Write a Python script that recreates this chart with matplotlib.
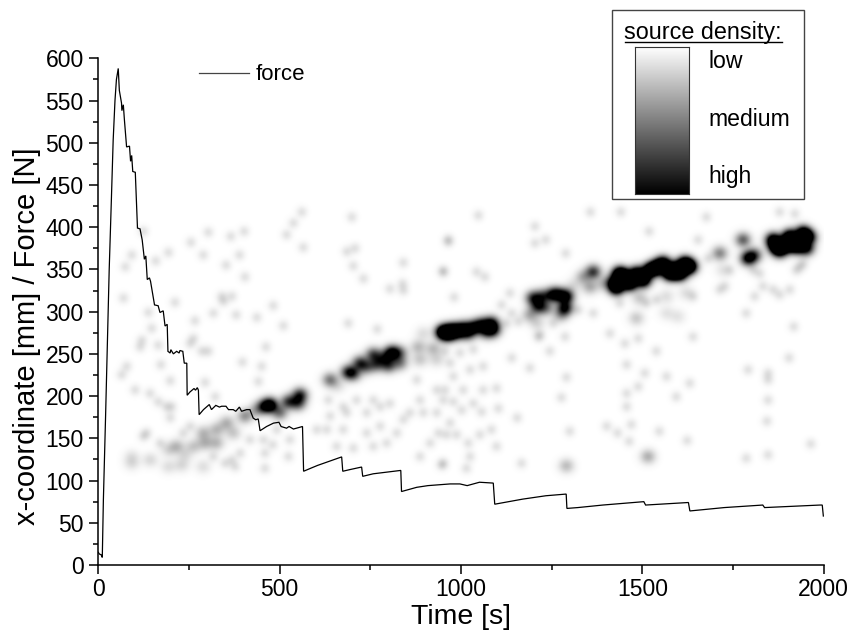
import numpy as np
import matplotlib
matplotlib.use("Agg")
import matplotlib.pyplot as plt
from matplotlib.ticker import MultipleLocator

plt.rcParams['font.family'] = ['Liberation Sans', 'DejaVu Sans']

# force curve
force_t = [0, 3, 8, 11, 14, 20, 30, 36, 41, 46, 50, 55, 58, 64, 65, 69, 72, 78, 86, 89, 92, 95, 102, 108, 115,
           121, 127, 131, 135, 141, 144, 155, 165, 170, 179, 184, 190, 192, 198, 200, 207, 216, 223, 225, 233,
           237, 244, 245, 253, 264, 268, 273, 276, 278, 290, 306, 312, 324, 334, 340, 352, 359, 372, 379, 389,
           395, 409, 418, 427, 434, 441, 446, 464, 483, 498, 504, 519, 526, 538, 563, 566, 588, 605, 671, 674,
           694, 726, 729, 758, 834, 836, 878, 909, 970, 997, 1017, 1051, 1089, 1093, 1170, 1234, 1290, 1292,
           1322, 1391, 1504, 1509, 1627, 1631, 1726, 1832, 1837, 1990, 1996, 1999]
force_y = [15, 13, 12, 9, 77, 175, 349, 432, 503, 550, 575, 588, 562, 547, 538, 545, 527, 495, 496, 478, 485, 466,
           465, 399, 398, 385, 362, 366, 338, 340, 336, 308, 307, 299, 301, 283, 285, 253, 251, 255, 250, 253,
           251, 254, 253, 239, 239, 201, 205, 209, 207, 210, 207, 178, 184, 190, 184, 189, 187, 188, 188, 184,
           184, 182, 187, 182, 184, 184, 174, 172, 173, 159, 164, 168, 169, 164, 162, 164, 161, 164, 111, 115,
           118, 128, 111, 113, 116, 105, 108, 112, 87, 92, 94, 96, 96, 94, 98, 97, 72, 78, 82, 84, 67, 68, 71,
           75, 71, 74, 64, 68, 71, 68, 71, 71, 58]

# isolated acoustic sources, each one faint spot
faint_t = [124, 92, 74, 158, 193, 255, 289, 303, 365, 402, 389, 352, 404, 519, 538, 561, 565, 699, 685, 708, 703,
           731, 841, 804, 839, 841, 951, 965, 69, 211, 340, 368, 345, 317, 380, 437, 482, 510, 138, 266, 147, 120,
           115, 165, 262, 253, 285, 303, 462, 689, 769, 397, 450, 441, 172, 78, 64, 198, 294, 101, 142, 165, 202,
           124, 198, 322, 368, 349, 459, 481, 524, 528, 459, 377, 634, 630, 657, 703, 758, 685, 712, 804, 841,
           795, 777, 887, 933, 951, 938, 951, 887, 740, 675, 859, 915, 956, 997, 1034, 1061, 1098, 956, 979,
           1002, 1057, 1103, 960, 988, 1052, 1084, 1098, 1020, 1025, 1015, 947, 1140, 1190, 1245, 1291, 1277,
           1155, 1300, 1167, 1402, 1432, 1470, 1464, 1547, 1624, 1457, 1452, 1539, 1489, 1411, 1640, 1787, 1918,
           1905, 1792, 1847, 1847, 1847, 1844, 1847, 1787, 1507, 1489, 1567, 1631, 1594, 1457, 1457, 1365, 1213,
           1287, 1323, 1048, 965, 1204, 1204, 1234, 1289, 1357, 1441, 1519, 1677, 1879, 1921, 951, 1043, 1066,
           981, 1965, 1218, 1254, 1728, 1810, 1833, 1879, 1907, 1806, 1935, 1112, 1135, 1140, 1158, 1126, 1654,
           1682,
           188, 234, 253, 133, 170, 317, 391, 418, 455, 492, 602, 639, 675, 740, 777, 758, 823, 878, 896, 933,
           970, 1025, 1061, 979, 1006, 1034, 970, 1539, 1512, 1438, 1640, 1714, 1741, 1824, 1861, 1925, 1944]
faint_x = [395, 367, 353, 360, 370, 382, 367, 394, 389, 395, 367, 355, 341, 391, 405, 418, 376, 412, 371, 375, 354,
           339, 358, 327, 333, 325, 348, 383, 316, 311, 318, 318, 312, 298, 296, 293, 307, 283, 299, 289, 280, 266,
           258, 260, 268, 262, 253, 253, 258, 286, 279, 240, 235, 217, 237, 235, 225, 218, 216, 207, 203, 193, 187,
           152, 174, 199, 124, 120, 132, 142, 128, 148, 114, 116, 195, 160, 140, 138, 195, 180, 195, 191, 172,
           144, 164, 195, 207, 195, 156, 120, 128, 156, 160, 180, 144, 253, 251, 255, 207, 209, 207, 193,
           183, 181, 185, 154, 154, 154, 160, 140, 144, 128, 114, 118, 245, 233, 253, 222, 198,
           174, 158, 120, 164, 156, 166, 146, 158, 147, 237, 262, 253, 268, 274, 270, 298, 282,
           245, 231, 227, 219, 195, 170, 130, 126, 227, 211, 223, 215, 199, 203, 187, 298, 270,
           270, 302, 414, 385, 401, 381, 385, 369, 418, 418, 395, 412, 418, 416, 347, 347, 341,
           317, 143, 272, 286, 330, 318, 330, 320, 326, 349, 353, 308, 322, 298, 288, 286, 385,
           363,
           187, 156, 164, 156, 144, 128, 132, 148, 148, 160, 160, 176, 187, 180, 187, 140, 156, 219, 180, 180,
           239, 231, 235, 223, 207, 191, 168, 314, 310, 310, 318, 326, 349, 345, 326, 349, 357]

# denser parts of the cloud, with a weight per spot
band_t = [92, 92, 143, 193, 230, 216, 193, 239, 289, 289, 294, 326, 326, 354, 372, 404, 262,
          473, 455, 524, 556, 551, 435, 500,
          639, 689, 721, 758, 809, 800, 832, 832, 767, 660, 705, 740, 785,
          882, 924, 951, 896, 970, 887, 933,
          951, 979, 1006, 1034, 1057, 1084, 1089, 965, 993, 1020, 1070,
          1516, 1291, 1484,
          1199, 1213, 1254, 1291, 1287, 1190, 1236, 1225, 1270, 1210, 1275,
          1310, 1365, 1337, 1356, 1392,
          1429, 1438, 1466, 1484, 1503, 1521, 1576, 1617, 1604, 1631, 1558, 1420, 1450, 1540, 1590,
          1493, 1567, 1622, 1567, 1599,
          1714, 1723, 1778, 1792, 1810,
          1861, 1870, 1907, 1944, 1925, 1953, 1898, 1880, 1960]
band_x = [120, 128, 124, 116, 118, 140, 136, 130, 116, 156, 144, 160, 144, 168, 156, 176, 140,
          189, 187, 193, 201, 191, 183, 180,
          219, 228, 239, 249, 251, 236, 239, 251, 237, 212, 226, 234, 245,
          258, 256, 275, 274, 276, 243, 243,
          276, 278, 280, 281, 284, 286, 278, 272, 275, 274, 276,
          128, 117, 292,
          316, 306, 320, 318, 304, 296, 304, 318, 320, 286, 296,
          331, 347, 341, 329, 333,
          328, 345, 333, 345, 337, 349, 345, 357, 345, 353, 357, 335, 340, 352, 350,
          316, 318, 322, 298, 294,
          369, 349, 385, 363, 367,
          385, 377, 389, 393, 377, 375, 379, 372, 388]
band_w = [0.12, 0.1, 0.14, 0.12, 0.14, 0.25, 0.14, 0.12, 0.12, 0.25, 0.25, 0.25, 0.25, 0.28, 0.2, 0.4, 0.2,
          1.2, 0.6, 0.7, 0.8, 0.6, 0.25, 0.5,
          0.5, 0.75, 0.7, 0.65, 1.1, 0.65, 0.45, 0.45, 0.55, 0.12, 0.5, 0.45, 0.5,
          0.25, 0.25, 0.6, 0.12, 0.7, 0.2, 0.15,
          0.9, 0.9, 0.9, 0.9, 0.9, 0.9, 0.8, 0.6, 0.6, 0.6, 0.6,
          0.3, 0.25, 0.2,
          0.75, 0.75, 0.85, 0.95, 0.95, 0.3, 0.4, 0.6, 0.6, 0.15, 0.3,
          0.12, 0.75, 0.3, 0.3, 0.2,
          1.4, 1.4, 1.4, 1.4, 1.4, 1.4, 1.4, 1.4, 1.4, 1.4, 1.4, 0.8, 1.4, 1.4, 1.4,
          0.2, 0.12, 0.12, 0.1, 0.1,
          0.45, 0.1, 0.6, 1.0, 0.6,
          1.2, 1.2, 1.4, 1.4, 1.4, 1.0, 1.4, 1.0, 1.0]
faint_w = 0.11

fig = plt.figure(figsize=(8.51, 6.3), dpi=100)
ax = fig.add_axes([98.3 / 851, 65 / 630, 725.4 / 851, 506.7 / 630])

# density map: one gaussian spot per source, denser parts get a wider spot
grid_t = np.linspace(0, 2000, 726)
grid_x = np.linspace(0, 600, 508)
tt, xx = np.meshgrid(grid_t, grid_x)
density = np.zeros_like(tt)
for t, x in zip(faint_t, faint_x):
    density += faint_w * np.exp(-((tt - t) / 10.5) ** 2 / 2 - ((xx - x) / 4.6) ** 2 / 2)
for t, x, w in zip(band_t, band_x, band_w):
    density += w * np.exp(-((tt - t) / 15) ** 2 / 2 - ((xx - x) / 6) ** 2 / 2)
ax.imshow(density, origin='lower', extent=[0, 2000, 0, 600], aspect='auto', cmap='gray_r',
          vmin=0, vmax=1, interpolation='bilinear')

ax.plot(force_t, force_y, color='black', linewidth=0.9, solid_joinstyle='miter')

ax.set_xlim(0, 2000)
ax.set_ylim(0, 600)
ax.spines['top'].set_visible(False)
ax.spines['right'].set_visible(False)
ax.spines['left'].set_linewidth(1.1)
ax.spines['bottom'].set_linewidth(1.1)
ax.xaxis.set_major_locator(MultipleLocator(500))
ax.xaxis.set_minor_locator(MultipleLocator(250))
ax.yaxis.set_major_locator(MultipleLocator(50))
ax.yaxis.set_minor_locator(MultipleLocator(25))
ax.tick_params(which='major', length=6.5, width=1.1, labelsize=16.5)
ax.tick_params(which='minor', length=3.6, width=1.1)
ax.tick_params(axis='x', which='major', pad=3)
ax.tick_params(axis='y', which='major', pad=4)
ax.set_xlabel("Time [s]", fontsize=20.5, labelpad=2)
ax.set_ylabel("x-coordinate [mm] / Force [N]", fontsize=21, labelpad=3, y=0.451)

# hand-placed key for the force line
fig.add_artist(plt.Line2D([199 / 851, 249 / 851], [1 - 73.3 / 630] * 2, color='#444444', linewidth=0.9))
fig.text(255.7 / 851, 1 - 74 / 630, "force", fontsize=16, va='center')

# source density key
fig.add_artist(plt.Rectangle((612.3 / 851, 1 - 199 / 630), 191.7 / 851, 189 / 630, facecolor='white',
                             edgecolor='#444444', linewidth=1.0, zorder=3))
cax = fig.add_axes([635 / 851, 1 - 194 / 630, 54 / 851, 147 / 630], zorder=4)
cax.imshow(np.linspace(0, 1, 256).reshape(-1, 1), cmap='gray_r', aspect='auto')
cax.set_xticks([])
cax.set_yticks([])
for s in cax.spines.values():
    s.set_linewidth(0.8)
    s.set_color('#333333')
fig.text(624.5 / 851, 1 - 39 / 630, "source density:", fontsize=16.8, va='baseline', zorder=5)
fig.add_artist(plt.Line2D([624.5 / 851, 781.5 / 851], [1 - 41.5 / 630] * 2, color='black', linewidth=1.0, zorder=5))
fig.text(708 / 851, 1 - 62 / 630, "low", fontsize=16.6, va='center', zorder=5)
fig.text(708 / 851, 1 - 120 / 630, "medium", fontsize=16.6, va='center', zorder=5)
fig.text(708 / 851, 1 - 177 / 630, "high", fontsize=16.6, va='center', zorder=5)

plt.savefig("out.png", dpi=100)
